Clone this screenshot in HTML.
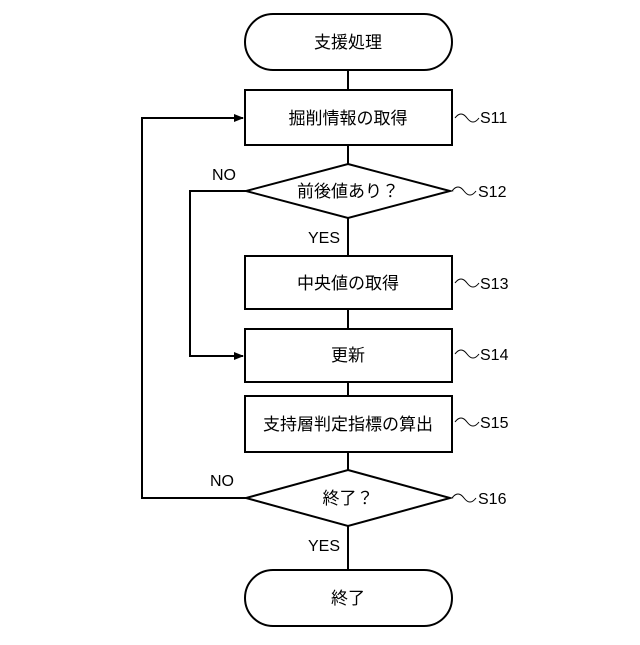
<!DOCTYPE html>
<html><head><meta charset="utf-8"><style>
body{margin:0;background:#fff}
svg text{font-family:"Liberation Sans","Noto Sans CJK JP",sans-serif;fill:#000}
</style></head><body>
<svg width="640" height="640" viewBox="0 0 640 640" xmlns="http://www.w3.org/2000/svg">
<defs><marker id="a" markerWidth="10" markerHeight="8" refX="9" refY="4" orient="auto" markerUnits="userSpaceOnUse"><path d="M0,0 L10,4 L0,8z" fill="#000"/></marker></defs>
<g stroke="#000" stroke-width="2" fill="none">
<rect x="245" y="14" width="207" height="56" rx="28"/>
<line x1="348" y1="70" x2="348" y2="90"/>
<rect x="245" y="90" width="207" height="55"/>
<line x1="348" y1="145" x2="348" y2="164"/>
<polygon points="348,164 450,191 348,218 246,191"/>
<line x1="348" y1="218" x2="348" y2="256"/>
<rect x="245" y="256" width="207" height="53"/>
<line x1="348" y1="309" x2="348" y2="329"/>
<rect x="245" y="329" width="207" height="53"/>
<line x1="348" y1="382" x2="348" y2="396"/>
<rect x="245" y="396" width="207" height="56"/>
<line x1="348" y1="452" x2="348" y2="470"/>
<polygon points="348,470 450,498 348,526 246,498"/>
<line x1="348" y1="526" x2="348" y2="570"/>
<rect x="245" y="570" width="207" height="56" rx="28"/>
<polyline points="246,191 190,191 190,356 243,356" marker-end="url(#a)"/>
<polyline points="246,498 142,498 142,118 243,118" marker-end="url(#a)"/>
<path d="M455,118 q6,-8 12,0 t12,0" stroke-width="1"/>
<path d="M452,191 q6,-8 12,0 t12,0" stroke-width="1"/>
<path d="M455,283 q6,-8 12,0 t12,0" stroke-width="1"/>
<path d="M455,354 q6,-8 12,0 t12,0" stroke-width="1"/>
<path d="M455,422 q6,-8 12,0 t12,0" stroke-width="1"/>
<path d="M452,498 q6,-8 12,0 t12,0" stroke-width="1"/>
</g>
<g font-size="17" text-anchor="middle">
<text x="348" y="48">支援処理</text>
<text x="348" y="124">掘削情報の取得</text>
<text x="348" y="197">前後値あり？</text>
<text x="348" y="289">中央値の取得</text>
<text x="348" y="361">更新</text>
<text x="348" y="430">支持層判定指標の算出</text>
<text x="348" y="504">終了？</text>
<text x="348" y="604">終了</text>
</g>
<g font-size="16">
<text x="480" y="123">S11</text>
<text x="478" y="197">S12</text>
<text x="480" y="289">S13</text>
<text x="480" y="360">S14</text>
<text x="480" y="428">S15</text>
<text x="478" y="504">S16</text>
<text x="212" y="180">NO</text>
<text x="308" y="243">YES</text>
<text x="210" y="486">NO</text>
<text x="308" y="551">YES</text>
</g>
</svg>
</body></html>
